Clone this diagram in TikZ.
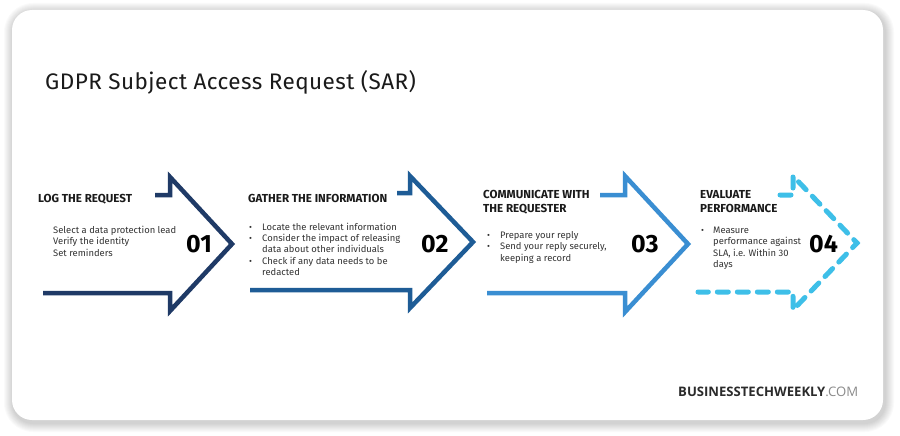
\documentclass[tikz,border=0pt]{standalone}
\usepackage{fontspec}
\setmainfont{Fira Sans}
\newfontfamily\logofont{Open Sans}
\definecolor{navy}{HTML}{1F3A66}
\definecolor{midblue}{HTML}{1E5C96}
\definecolor{ltblue}{HTML}{3A8ED2}
\definecolor{cyanb}{HTML}{3EBFE8}
\definecolor{txt}{HTML}{1A1A1A}
\definecolor{body}{HTML}{333333}
\begin{document}
\begin{tikzpicture}[x=1pt,y=-1pt,
  arr/.style={line width=4.5pt, miter limit=10},
  head/.style={anchor=base west, inner sep=0pt, font=\fontsize{11.6}{13}\selectfont\bfseries, text=txt},
  bodytxt/.style={anchor=base west, inner sep=0pt, font=\fontsize{9.4}{11}\selectfont, text=body},
  bul/.style={anchor=base west, inner sep=0pt, font=\fontsize{9}{11}\selectfont, text=body},
  num/.style={anchor=base west, inner sep=0pt, font=\fontsize{25}{28}\selectfont\bfseries, text=black}]
\useasboundingbox (0,0) rectangle (900,436);
\fill[white] (0,0) rectangle (900,436);
% card shadow
\foreach \i in {1,...,9} {
  \pgfmathsetmacro{\rr}{20+\i}
  \fill[black, opacity=0.018, rounded corners=\rr pt] (13-\i,12-\i) rectangle (885+\i,423+\i);
}
\fill[white, rounded corners=20pt] (12,10) rectangle (883,420);
% title
\node[anchor=base west, inner sep=0pt, font=\fontsize{22.5}{26}\selectfont\addfontfeatures{LetterSpace=2}, text=txt] (title) at (45,90) {GDPR Subject Access Request (SAR)};
% arrows
\draw[arr, navy] (155,195) -- (170,195) -- (170,177) -- (232,244) -- (170,311) -- (170,293) -- (43,293);
\draw[arr, midblue] (397,193) -- (410,193) -- (410,176) -- (473,242) -- (410,308) -- (410,290) -- (250,290);
\draw[arr, ltblue] (600,195) -- (625,195) -- (625,176) -- (688,244) -- (625,312) -- (625,293) -- (487,293);
\draw[arr, cyanb, line width=5pt, line cap=round, dash pattern=on 11pt off 9pt] (780,195) -- (793,195) -- (793,176) -- (857,243) -- (793,310) -- (793,292) -- (698,292);
% step 1
\node[head] (h1) at (38,202) {LOG THE REQUEST};
\node[bodytxt] (b1a) at (53,233) {Select a data protection lead};
\node[bodytxt] (b1b) at (53,244.5) {Verify the identity};
\node[bodytxt] (b1c) at (53,256) {Set reminders};
\node[num] (n1) at (186,252) {01};
% step 2
\node[head] (h2) at (248,202) {GATHER THE INFORMATION};
\node[bul] (d2a) at (249,230) {•};
\node[bodytxt] (b2a) at (262,230) {Locate the relevant information};
\node[bul] (d2b) at (249,241.5) {•};
\node[bodytxt] (b2b) at (262,241.5) {Consider the impact of releasing};
\node[bodytxt] (b2c) at (262,252.5) {data about other individuals};
\node[bul] (d2d) at (249,264) {•};
\node[bodytxt] (b2d) at (262,264) {Check if any data needs to be};
\node[bodytxt] (b2e) at (262,275) {redacted};
\node[num] (n2) at (421,252) {02};
% step 3
\node[head] (h3a) at (483,198) {COMMUNICATE WITH};
\node[head] (h3b) at (483,212) {THE REQUESTER};
\node[bul] (d3a) at (487,238) {•};
\node[bodytxt] (b3a) at (500,238) {Prepare your reply};
\node[bul] (d3b) at (487,249.5) {•};
\node[bodytxt] (b3b) at (500,249.5) {Send your reply securely,};
\node[bodytxt] (b3c) at (500,261) {keeping a record};
\node[num] (n3) at (631,252) {03};
% step 4
\node[head] (h4a) at (700,198) {EVALUATE};
\node[head] (h4b) at (700,212) {PERFORMANCE};
\node[bul] (d4a) at (701,233) {•};
\node[bodytxt] (b4a) at (713,233) {Measure};
\node[bodytxt] (b4b) at (713,244.5) {performance against};
\node[bodytxt] (b4c) at (713,256) {SLA, i.e. Within 30};
\node[bodytxt] (b4d) at (713,267.5) {days};
\node[num] (n4) at (809,252) {04};
% logo
\node[anchor=base west, inner sep=0pt, font=\logofont\fontsize{13.1}{15}\selectfont] (logo) at (678,396) {\textcolor[HTML]{2B2B2B}{\bfseries BUSINESSTECHWEEKLY}\textcolor[HTML]{8A8A8A}{.COM}};
\end{tikzpicture}
\end{document}
